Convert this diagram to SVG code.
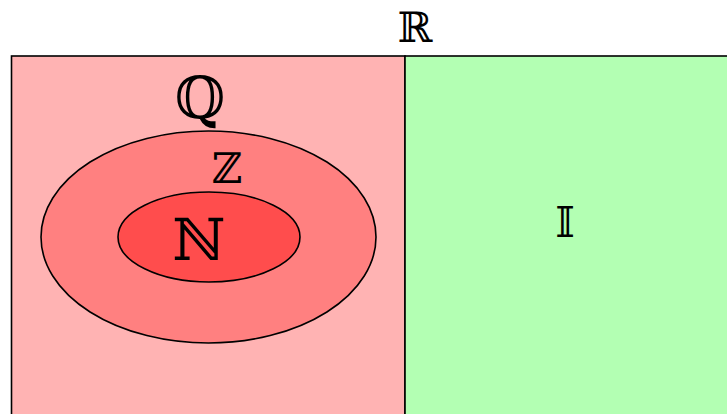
<svg xmlns="http://www.w3.org/2000/svg" width="727" height="414" viewBox="0 0 727 414">
<style>
.s{stroke:#000;stroke-width:1.6}
.t{font-family:"DejaVu Serif","DejaVu Sans",serif;text-anchor:middle;fill:#000}
.big{font-size:58px}
.sm{font-size:42px}
</style>
<rect width="727" height="414" fill="#fff"/>
<g id="Q">
<rect class="s" x="11.5" y="56" width="393.5" height="370" fill="#ffb3b3"/>
<text class="t big" x="200" y="118">ℚ</text>
</g>
<g id="I">
<rect class="s" x="405" y="56" width="340" height="370" fill="#b3ffb3"/>
<text class="t sm" x="565" y="237">𝕀</text>
</g>
<g id="Z">
<ellipse class="s" cx="208.5" cy="237" rx="167.5" ry="106" fill="#ff8080"/>
<text class="t sm" x="227" y="183">ℤ</text>
</g>
<g id="N">
<ellipse class="s" cx="209" cy="237" rx="91" ry="45" fill="#ff4d4d"/>
<text class="t big" x="199" y="260">ℕ</text>
</g>
<g id="R">
<text class="t sm" x="415" y="42">ℝ</text>
</g>
<g id="connectors"></g>
</svg>
